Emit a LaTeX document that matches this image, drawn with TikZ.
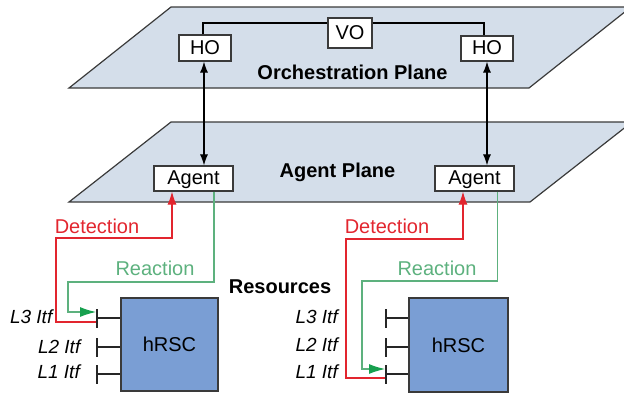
\documentclass[tikz,border=0pt]{standalone}
\usepackage{fontspec}
\setmainfont{Liberation Sans}
\usetikzlibrary{arrows.meta}
\definecolor{planefill}{HTML}{D4DEEA}
\definecolor{planeedge}{HTML}{3A3A3A}
\definecolor{rscfill}{HTML}{7A9ED4}
\definecolor{detred}{HTML}{E2252E}
\definecolor{reacgreen}{HTML}{5DB17E}
\definecolor{reacdark}{HTML}{17A04F}
\begin{document}
\begin{tikzpicture}[x=1pt,y=-1pt,
  font=\fontsize{20}{24}\selectfont,
  plane/.style={fill=planefill, draw=planeedge, line width=1.2pt, line join=miter},
  box/.style={draw=planeedge, fill=white, line width=1.2pt, inner sep=0pt, text height=14.3pt, text depth=2pt},
  rsc/.style={draw=planeedge, fill=rscfill, line width=1.5pt, inner sep=0pt, text height=14.3pt, text depth=0pt},
  link/.style={line width=1.1pt, draw=black},
  bidir/.style={line width=1.1pt, draw=black, {Latex[length=11pt,width=8pt]}-{Latex[length=11pt,width=8pt]}},
  det/.style={draw=detred, line width=1.1pt, -{Latex[length=13pt,width=9pt]}},
  reac/.style={draw=reacgreen, line width=1.1pt, -{Latex[length=16pt,width=10pt,color=reacdark]}},
  stub/.style={line width=2pt, draw=black!85, {Bar[width=19pt]}-},
  lbl/.style={inner sep=0pt, text height=14.3pt, text depth=0pt},
  itf/.style={font=\fontsize{19}{22}\selectfont\itshape, anchor=east, inner sep=0pt, text height=13.6pt, text depth=0pt},
  title/.style={font=\fontsize{20}{24}\selectfont\bfseries, inner sep=0pt, text height=14.3pt, text depth=0pt},
]
\useasboundingbox (0,0) rectangle (624,394);
\clip (0,0) rectangle (624,394);

% planes
\path[plane] (69,88) -- (529,88) -- (631,7) -- (171,7) -- cycle;
\path[plane] (69,202) -- (530,202) -- (632,122) -- (171,122) -- cycle;

% plane titles
\node[title] (op) at (352.5,72) {Orchestration Plane};
\node[title] (ap) at (337.5,170) {Agent Plane};
\node[title] (res) at (280,286) {Resources};

% boxes
\node[box, minimum width=52pt, minimum height=26pt] (ho1) at (205,48) {HO};
\node[box, minimum width=44pt, minimum height=30pt] (vo) at (350,33) {VO};
\node[box, minimum width=52pt, minimum height=25pt] (ho2) at (487,48.5) {HO};
\node[box, minimum width=79pt, minimum height=25pt] (ag1) at (193.5,178.5) {Agent};
\node[box, minimum width=79pt, minimum height=25pt] (ag2) at (474.5,178.5) {Agent};

% orchestration links
\draw[link] ([xshift=-2pt]ho1.north) |- ([yshift=10pt]vo.west);
\draw[link] ([yshift=10pt]vo.east) -| ([xshift=-3pt]ho2.north);
\draw[bidir] ([xshift=-1pt]ho1.south) -- ([xshift=10.5pt]ag1.north);
\draw[bidir] (ho2.south) -- ([xshift=12.5pt]ag2.north);

% resources
\node[rsc, minimum width=97pt, minimum height=93pt] (r1) at (169.5,344.5) {hRSC};
\node[rsc, minimum width=99pt, minimum height=94pt] (r2) at (458.5,345) {hRSC};

% interface stubs
\coordinate (a3) at (96,318);
\coordinate (a2) at (96,347);
\coordinate (a1) at (96,374);
\coordinate (b3) at (385,318);
\coordinate (b2) at (385,347);
\coordinate (b1) at (385,374);
\foreach \p/\r in {a3/r1,a2/r1,a1/r1,b3/r2,b2/r2,b1/r2}
  \draw[stub] (\p) -- (\p -| \r.west);

% interface labels
\node[itf] (la3) at (52.5,317) {L3 Itf};
\node[itf] (la2) at (80.5,347) {L2 Itf};
\node[itf] (la1) at (80,372) {L1 Itf};
\node[itf] (lb3) at (338,317) {L3 Itf};
\node[itf] (lb2) at (338,345) {L2 Itf};
\node[itf] (lb1) at (338,372) {L1 Itf};

% detection / reaction
\coordinate (d1) at (96,322);
\coordinate (g1) at (96,312);
\coordinate (d2) at (385,378);
\coordinate (g2) at (385,369);
\draw[det] (d1) -| (56,238) -| ([xshift=-21.5pt]ag1.south);
\draw[reac] ([xshift=20.5pt]ag1.south) |- (68,282) |- (g1);
\draw[det] (d2) -| (346,239) -| ([xshift=-11.5pt]ag2.south);
\draw[reac] ([xshift=23pt]ag2.south) |- (362,281) |- (g2);

\node[lbl, text=detred] (dt1) at (97,226) {Detection};
\node[lbl, text=detred] (dt2) at (387,226) {Detection};
\node[lbl, text=reacgreen] (rt1) at (155,268) {Reaction};
\node[lbl, text=reacgreen] (rt2) at (437,268) {Reaction};
\end{tikzpicture}
\end{document}
